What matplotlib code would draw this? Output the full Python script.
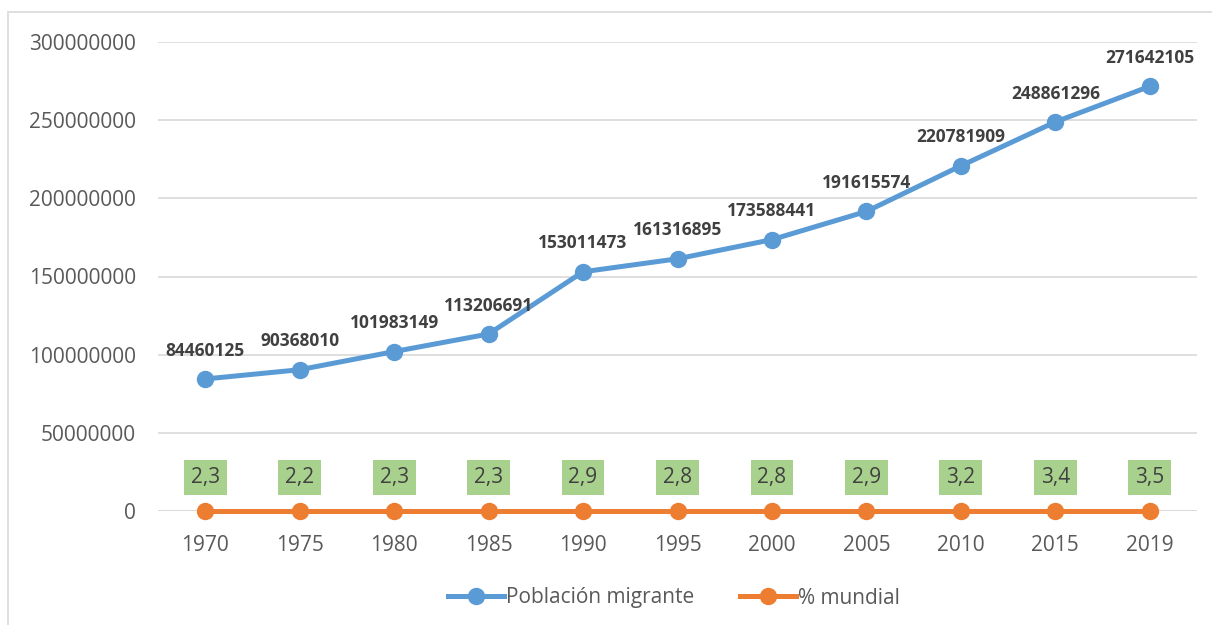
import matplotlib
matplotlib.use("Agg")
import matplotlib.pyplot as plt
from matplotlib.patches import Rectangle

years = ["1970", "1975", "1980", "1985", "1990", "1995", "2000", "2005", "2010", "2015", "2019"]
poblacion = [84460125, 90368010, 101983149, 113206691, 153011473, 161316895,
             173588441, 191615574, 220781909, 248861296, 271642105]
pct_mundial = [2.3, 2.2, 2.3, 2.3, 2.9, 2.8, 2.8, 2.9, 3.2, 3.4, 3.5]
yticks = [0, 50000000, 100000000, 150000000, 200000000, 250000000, 300000000]

plt.rcParams['font.family'] = ['Open Sans', 'DejaVu Sans']

W, H = 1212, 625
fig = plt.figure(figsize=(W/100, H/100), dpi=100)
ax = fig.add_axes([158/W, 1-511/H, (1197-158)/W, (511-42)/H])

blue = "#5B9BD5"
orange = "#ED7D31"
x = list(range(len(years)))

ax.plot(x, poblacion, color=blue, lw=3.6, marker='o', ms=11.5, label="Población migrante",
        zorder=3, clip_on=False)
ax.plot(x, pct_mundial, color=orange, lw=3.6, marker='o', ms=11.5, label="% mundial",
        zorder=3, clip_on=False)

for xi, v in zip(x, poblacion):
    ax.annotate(str(v), (xi, v), xytext=(0, 14), textcoords='offset points',
                ha='center', va='bottom', fontsize=12.5, fontweight='bold', color='#404040')
for xi, v in zip(x, pct_mundial):
    ax.annotate(f"{v:.1f}".replace('.', ','), (xi, v), xytext=(0, 24), textcoords='offset points',
                ha='center', va='center', fontsize=15, color='#404040',
                bbox=dict(boxstyle='square,pad=0.33', fc='#A9D18E', ec='none'))

ax.set_xlim(-0.5, len(years) - 0.5)
ax.set_ylim(0, 300000000)
ax.set_yticks(yticks)
ax.set_yticklabels([str(t) for t in yticks])
ax.set_xticks(x)
ax.set_xticklabels(years)
ax.tick_params(axis='both', length=0, labelsize=15, labelcolor='#595959')
ax.tick_params(axis='y', pad=16)
ax.tick_params(axis='x', pad=17)
ax.grid(axis='y', color='#D9D9D9', lw=1.2)
ax.set_axisbelow(True)
for s in ax.spines.values():
    s.set_visible(False)
ax.axhline(0, color='#D9D9D9', lw=1.2, zorder=1)

leg = fig.legend(loc='center', bbox_to_anchor=(674/W, 1-598/H), ncol=2, frameon=False,
                 fontsize=15, labelcolor='#595959', handlelength=2.7, columnspacing=2.2,
                 handletextpad=0.1)

# outer chart border (display coords: origin at bottom-left)
fig.patches.append(Rectangle((8, -20), W + 20, H - 12 + 20, transform=None, fill=False,
                             ec='#D9D9D9', lw=1.2))

fig.savefig("out.png", dpi=100)
